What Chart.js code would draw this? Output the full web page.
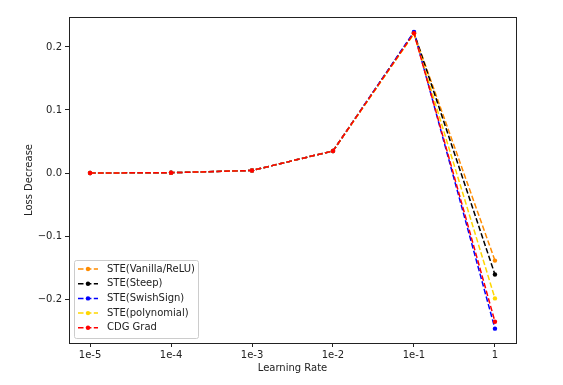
<!DOCTYPE html>
<html>
<head>
    <title>Loss Decrease</title>
    <script src="https://cdn.jsdelivr.net/npm/chart.js"></script>
    <style>
        body { margin: 0; background: #fff; }
    </style>
</head>
<body>
    <canvas id="lossChart" width="563" height="385"></canvas>

    <script>
        // values
        var lrLabels = ["1e-5", "1e-4", "1e-3", "1e-2", "1e-1", "1"];
        var yTicks = [-0.2, -0.1, 0.0, 0.1, 0.2];

        var vanilla = [0.0, 0.0005, 0.004, 0.035, 0.222, -0.139];
        var steep = [0.0, 0.0005, 0.004, 0.035, 0.223, -0.161];
        var swish = [0.0, 0.0005, 0.004, 0.035, 0.224, -0.247];
        var poly = [0.0, 0.0005, 0.004, 0.035, 0.221, -0.199];
        var cdg = [0.0, 0.0005, 0.004, 0.035, 0.222, -0.236];

        var seriesNames = ["STE(Vanilla/ReLU)", "STE(Steep)", "STE(SwishSign)", "STE(polynomial)", "CDG Grad"];
        var seriesColors = ["#ff8c00", "#000000", "#0000ff", "#ffd700", "#ff0000"];
        var seriesData = [vanilla, steep, swish, poly, cdg];

        var font = { family: "DejaVu Sans", size: 10 };
        var textColor = "#222";

        function makeSet(i) {
            return {
                label: seriesNames[i],
                data: seriesData[i].map((v, k) => ({ x: k, y: v })),
                borderColor: seriesColors[i],
                backgroundColor: seriesColors[i],
                borderWidth: 1.5,
                borderDash: [5.5, 2.4],
                pointRadius: 2.2,
                pointBorderWidth: 0,
                tension: 0,
                showLine: true,
                order: 4 - i // last series drawn on top, like matplotlib
            };
        }

        // frame around the plot + matplotlib style legend
        var framePlugin = {
            id: "frame",
            afterDraw: function(chart) {
                var c = chart.ctx, a = chart.chartArea;
                c.save();
                c.strokeStyle = textColor;
                c.lineWidth = 1;
                c.strokeRect(a.left + 0.5, a.top + 0.5, a.right - a.left, a.bottom - a.top);

                var bx = 74.5, by = 260.5, bw = 124, bh = 78;
                c.fillStyle = "rgba(255,255,255,0.8)";
                c.strokeStyle = "#cccccc";
                c.beginPath();
                c.roundRect(bx, by, bw, bh, 2);
                c.fill();
                c.stroke();

                c.font = "10px 'DejaVu Sans'";
                c.textBaseline = "middle";
                for (var i = 0; i < seriesNames.length; i++) {
                    var yy = 269 + i * 14.7;
                    c.strokeStyle = seriesColors[i];
                    c.lineWidth = 1.5;
                    c.setLineDash([5.5, 2.4]);
                    c.beginPath();
                    c.moveTo(78, yy);
                    c.lineTo(98, yy);
                    c.stroke();
                    c.setLineDash([]);
                    c.fillStyle = seriesColors[i];
                    c.beginPath();
                    c.arc(88, yy, 2.2, 0, Math.PI * 2);
                    c.fill();
                    c.fillStyle = textColor;
                    c.fillText(seriesNames[i], 107, yy);
                }
                c.restore();
            }
        };

        var ctx = document.getElementById("lossChart").getContext("2d");
        var chart = new Chart(ctx, {
            type: "scatter",
            data: { datasets: [0, 1, 2, 3, 4].map(makeSet) },
            options: {
                responsive: false,
                animation: false,
                layout: { padding: { left: 19, right: 47, top: 17, bottom: 7 } },
                plugins: { legend: { display: false }, tooltip: { enabled: false } },
                scales: {
                    x: {
                        type: "linear",
                        min: -0.26,
                        max: 5.26,
                        afterBuildTicks: function(s) { s.ticks = lrLabels.map((l, k) => ({ value: k })); },
                        afterFit: function(s) { s.height = 35; },
                        ticks: {
                            autoSkip: false,
                            maxRotation: 0,
                            color: textColor,
                            font: font,
                            padding: 2,
                            callback: function(v) { return lrLabels[v]; }
                        },
                        grid: { drawOnChartArea: false, tickLength: 4, color: textColor },
                        border: { color: textColor },
                        title: { display: true, text: "Learning Rate", color: textColor, font: font, padding: { top: 4, bottom: 4 } }
                    },
                    y: {
                        min: -0.2698,
                        max: 0.2476,
                        afterBuildTicks: function(s) { s.ticks = yTicks.map(v => ({ value: v })); },
                        afterFit: function(s) { s.width = 50; },
                        ticks: {
                            color: textColor,
                            font: font,
                            padding: 3,
                            callback: function(v) { return v.toFixed(1).replace("-", "\u2212"); }
                        },
                        grid: { drawOnChartArea: false, tickLength: 4, color: textColor },
                        border: { color: textColor },
                        title: { display: true, text: "Loss Decrease", color: textColor, font: font, padding: { top: 4, bottom: 4 } }
                    }
                }
            },
            plugins: [framePlugin]
        });
    </script>
</body>
</html>
